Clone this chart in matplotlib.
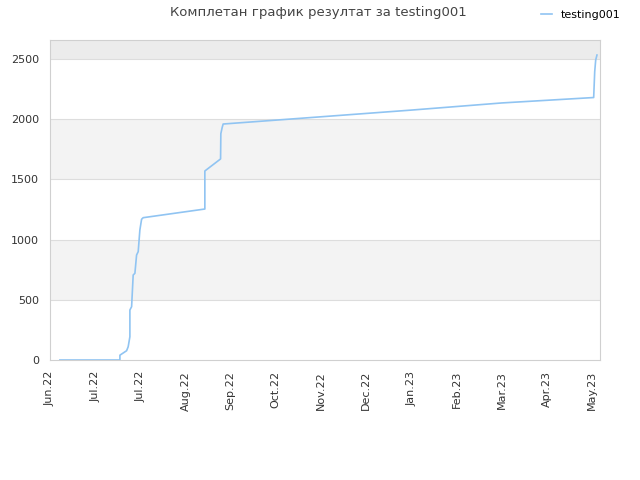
import matplotlib
matplotlib.use("Agg")
import matplotlib.pyplot as plt

matplotlib.rcParams.update({"font.family": ["DejaVu Sans"], "font.size": 8})

# x positions in "tick units" (one unit per labelled tick)
month_labels = ["Jun.22", "Jul.22", "Jul.22", "Aug.22", "Sep.22", "Oct.22", "Nov.22",
                "Dec.22", "Jan.23", "Feb.23", "Mar.23", "Apr.23", "May.23"]
score_x = [0.221, 1.549, 1.549, 1.697, 1.732, 1.770, 1.770, 1.808, 1.843, 1.881,
           1.918, 1.954, 1.991, 2.029, 2.064, 3.429, 3.429, 3.777, 3.783, 3.812,
           3.834, 5.531, 8.009, 10.0, 12.035, 12.058, 12.080, 12.108]
score_y = [0, 0, 40, 77, 110, 193, 415, 443, 706, 720,
           872, 900, 1080, 1169, 1182, 1254, 1570, 1670, 1880, 1930,
           1960, 2007, 2076, 2135, 2180, 2395, 2492, 2533]

X_MAX = 12.168
Y_MAX = 2658

fig = plt.figure(figsize=(6.4, 4.8), dpi=100)
ax = fig.add_axes([0.078, 0.25, 0.859, 0.6667])

# alternating bands
bands = [(500, 1000, "#f3f3f3"), (1500, 2000, "#f3f3f3"), (2500, Y_MAX, "#ececec")]
for lo, hi, c in bands:
    ax.axhspan(lo, hi, color=c, lw=0, zorder=0)
for yv in range(500, 2501, 500):
    ax.axhline(yv, color="#dddddd", lw=0.8, zorder=1)

ax.plot(score_x, score_y, color="#90c4f2", lw=1.2, label="testing001", zorder=3)

ax.set_xlim(0, X_MAX)
ax.set_ylim(0, Y_MAX)
ax.set_xticks(range(len(month_labels)))
ax.set_xticklabels(month_labels, rotation=90, color="#333333")
ax.set_yticks(range(0, 2501, 500))
ax.set_yticklabels([str(v) for v in range(0, 2501, 500)], color="#333333")
ax.tick_params(length=0, pad=8)
for s in ax.spines.values():
    s.set_color("#d0d0d0")

fig.suptitle("Комплетан график резултат за testing001", x=0.497, y=0.987,
             fontsize=9.5, color="#444444")
fig.legend(loc="upper right", bbox_to_anchor=(0.985, 1.0), frameon=False,
           fontsize=8, handlelength=1.0)

fig.savefig("out.png", dpi=100)
